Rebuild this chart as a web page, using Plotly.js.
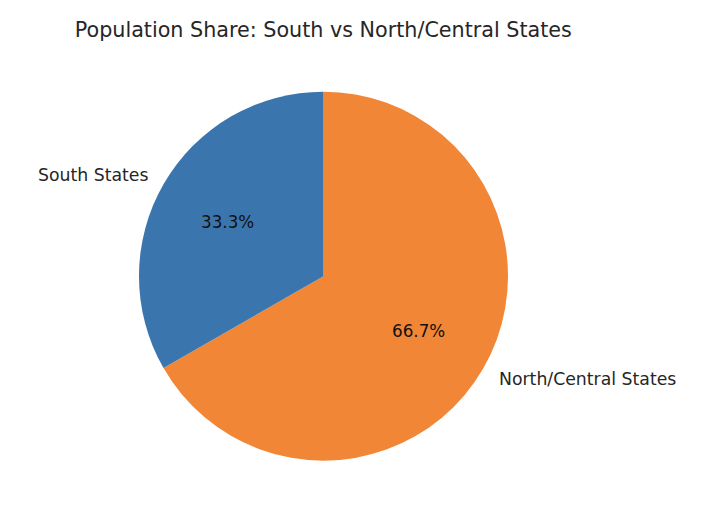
<!DOCTYPE html>
<html>
<head>
<meta charset="utf-8">
<script src="https://cdn.plot.ly/plotly-3.0.1.min.js"></script>
<style>
  html, body { margin: 0; padding: 0; background: #fff; }
  #chart { width: 712px; height: 512px; }
</style>
</head>
<body>
<div id="chart"></div>
<script>
// listed clockwise from 12 o'clock
const categories = ["North/Central States", "South States"];
const shares = [66.7, 33.3];
const colors = ["#f18636", "#3a75ae"];
const FONT = "DejaVu Sans, sans-serif";

// pie centre and radius in pixels, labels get placed by hand around it
const W = 712, H = 512;
const CX = 323, CY = 276, R = 184.5;

const total = shares.reduce((a, b) => a + b, 0);
const annotations = [];
let start = 0;
shares.forEach(function(v, i){
  const mid = (start + v / 2) / total * 2 * Math.PI;
  start += v;
  const dx = Math.sin(mid), dy = -Math.cos(mid);
  annotations.push({
    xref: "paper", yref: "paper", showarrow: false, borderpad: 0,
    x: (CX + dx * R * 0.6) / W, y: 1 - (CY + dy * R * 0.6) / H,
    xanchor: "center", yanchor: "middle", yshift: dx < 0 ? -1.5 : 0,
    text: v.toFixed(1) + "%",
    font: {family: FONT, size: 16.8, color: "#111"}
  });
  annotations.push({
    xref: "paper", yref: "paper", showarrow: false, borderpad: 0,
    x: (CX + dx * R * 1.1) / W, y: 1 - (CY + dy * R * 1.1) / H,
    xanchor: dx < 0 ? "right" : "left", yanchor: "middle",
    xshift: dx < 0 ? 2 : -1, yshift: -1,
    text: categories[i],
    font: {family: FONT, size: 17.3, color: "#262626"}
  });
});

const trace = {
  type: "pie", labels: categories, values: shares, sort: false, direction: "clockwise",
  rotation: 0, domain: {x: [0.1952, 0.7135], y: [0.1, 0.8213]},
  marker: {colors: colors, line: {width: 0}},
  textinfo: "none", hoverinfo: "label+percent", showlegend: false
};

const layout = {
  width: W, height: H,
  margin: {l: 0, r: 0, t: 0, b: 0},
  paper_bgcolor: "#fff",
  showlegend: false,
  annotations: annotations,
  title: {
    text: "Population Share: South vs North/Central States",
    font: {family: FONT, size: 20.7, color: "#262626"},
    x: 0.105, xanchor: "left", y: 0.942, yanchor: "middle"
  }
};

Plotly.newPlot("chart", [trace], layout, {displayModeBar: false});
</script>
</body>
</html>
